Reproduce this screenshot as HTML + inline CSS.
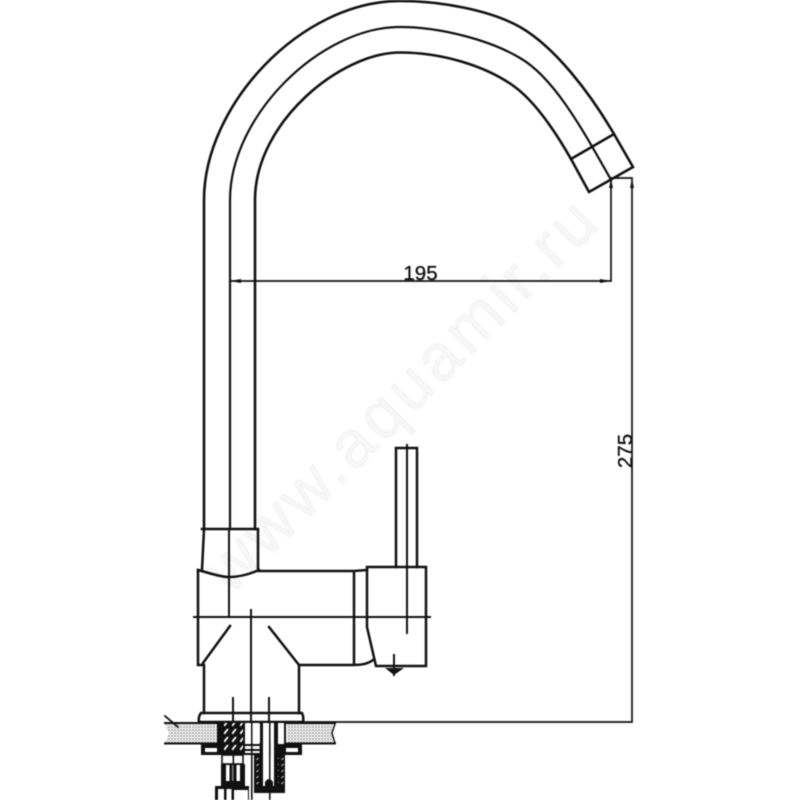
<!DOCTYPE html>
<html><head><meta charset="utf-8"><style>
html,body{margin:0;padding:0;background:#fff;width:800px;height:800px;overflow:hidden}
svg{display:block;filter:blur(.4px)}
</style></head><body>
<svg width="800" height="800" viewBox="0 0 800 800" xmlns="http://www.w3.org/2000/svg">
<defs>
<pattern id="st" width="3" height="3" patternUnits="userSpaceOnUse"><rect width="3" height="3" fill="#fff"/><circle cx="1" cy="1" r=".9" fill="#888"/><circle cx="2.5" cy="2.5" r=".6" fill="#aaa"/></pattern>
<pattern id="ch" width="8" height="8" patternUnits="userSpaceOnUse"><rect width="8" height="8" fill="#111"/><path d="M0 6L4 1" stroke="#fff" stroke-width="1.8"/></pattern>
<pattern id="th" width="5" height="6" patternUnits="userSpaceOnUse"><rect width="5" height="6" fill="#111"/><path d="M1.5 4L3.5 2" stroke="#ccc" stroke-width="1"/></pattern>
</defs>
<text transform="translate(231,596) rotate(-45)" font-family="Liberation Sans" font-size="66" fill="#f7f7f7" stroke="#eeeeee" stroke-width=".6" letter-spacing="4.1">www.aquamir.ru</text>
<g fill="none" stroke="#111" stroke-linecap="square">
<!-- spout -->
<g stroke-width="2.6">
<path d="M204 529V200C204 105 301 1 400 1C440 1 490 10 520 27C555 47 590 93 614 134L633 167L589 192L571 159C555 131 535 102 515 87C485 65 440 52.5 400 52.5C341 52.5 255 122 255 200V529"/>
<path d="M571 159L614 134"/>
</g>
<path d="M230 529V200C230 116 320 27 400 27C440 27 490 40 520 58C555 78 585 134 610 178" stroke-width="2.2"/>
<!-- dimensions -->
<g stroke-width="1.7">
<path d="M230 281H611V178H632M632 178V722M303 722H632"/>
</g>
<path d="M230 281L241 279V283ZM611 281L600 279V283ZM611 179L609 188H613ZM632 179L630 188H634Z" fill="#111" stroke="none"/>
<!-- collar / body -->
<g stroke-width="2.5">
<path d="M204 529H258V570M204 529L202 570M202 529H258"/>
<path d="M198 570C212 574 222 577 229 577C240 577 250 574 259 570"/>
<path d="M198 570V665H203M259 571H354L367 570M354 571V665M299 665H354C362 665 369 663 373 660"/>
<path d="M203 663L230 626M269 627L299 665"/>
<path d="M204 665V713M299 665V713"/>
<path d="M201 713H302Q304 717 303 722H199Q198 717 201 713Z"/>
<!-- handle -->
<path d="M367 567H426V666H376L367 627V567Z"/>
<path d="M396 448H417M396 448V567M417 448V567"/>
</g>
<g stroke-width="2">
<path d="M229 529V617M251 610V722M407 445V633M194 617H430" />
<path d="M394 655V675M233 698V722M269 698V722"/>
</g>
<path d="M385 668H404L394 675Z" fill="#111" stroke="none"/>
<!-- countertop -->
<path d="M165 724H218V743H165L169 733ZM287 724H335L332 733L335 743H287Z" fill="url(#st)" stroke="none"/>
<path d="M165 723H335M165 743.5H218M287 743.5H335" stroke-width="2"/>
<path d="M165 716L178 727" stroke-width="1.8"/>
<path d="M335 724L332 733L335 743" stroke-width="1.4"/>
</g>
<!-- under-counter hardware -->
<g fill="#111">
<rect x="201" y="743" width="101" height="12"/>
<rect x="205" y="748" width="12" height="4" fill="#fff"/>
<rect x="286" y="748" width="12" height="4" fill="#fff"/>
<rect x="217" y="723" width="5" height="32"/>
<rect x="222" y="723" width="21" height="29" fill="url(#ch)"/>
<rect x="243" y="723" width="2" height="32"/>
<rect x="245" y="723" width="6" height="30" fill="#fff"/>
<rect x="251" y="723" width="1.6" height="77"/>
<rect x="252.6" y="723" width="7" height="30" fill="#fff"/>
<rect x="245" y="744" width="15" height="2" fill="#111"/>
<rect x="245" y="749" width="15" height="2" fill="#111"/>
<rect x="260" y="723" width="3" height="70"/>
<rect x="263" y="723" width="6" height="62" fill="#fff"/>
<rect x="269" y="723" width="1.6" height="77"/>
<rect x="270.6" y="723" width="3.4" height="62" fill="#fff"/>
<rect x="274" y="723" width="4" height="70"/>
<rect x="278" y="723" width="6" height="23" fill="#fff"/>
<rect x="284" y="723" width="2" height="32"/>
<rect x="278" y="744" width="9" height="2"/>
<rect x="254" y="755" width="6" height="38" fill="url(#th)"/>
<rect x="278" y="755" width="7" height="38" fill="url(#th)"/>
<rect x="254" y="786" width="31" height="7"/>
<path d="M265 787V782Q269 776 273 782V787Z"/>
<!-- fitting -->
<rect x="222" y="755" width="21" height="9" fill="#fff"/>
<rect x="222" y="755" width="21" height="9" fill="none" stroke="#111" stroke-width="1.6"/>
<rect x="232.5" y="755" width="1.6" height="9"/>
<rect x="221" y="764" width="24" height="22"/>
<rect x="226" y="765" width="3.5" height="16" fill="#fff"/>
<rect x="232" y="765" width="1.4" height="16" fill="#888"/>
<rect x="236.5" y="765" width="3.5" height="16" fill="#fff"/>
<rect x="215" y="786" width="34" height="14"/>
<rect x="218" y="789" width="6" height="11" fill="#fff"/>
<rect x="226.5" y="789" width="5" height="11" fill="#fff"/>
<rect x="234" y="790" width="14" height="10" fill="#fff"/>
</g>
<text x="420.5" y="280" text-anchor="middle" font-family="Liberation Sans" font-size="20.5" fill="#111" stroke="#111" stroke-width=".35">195</text>
<text transform="translate(632,451) rotate(-90)" text-anchor="middle" font-family="Liberation Sans" font-size="20.5" fill="#111" stroke="#111" stroke-width=".35">275</text>
</svg>
</body></html>
